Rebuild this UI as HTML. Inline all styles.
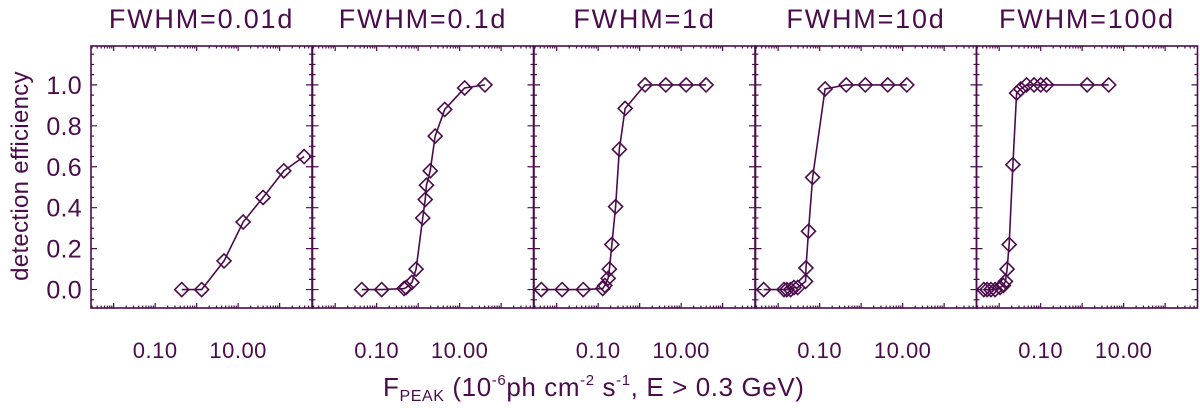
<!DOCTYPE html>
<html><head><meta charset="utf-8"><style>
html,body{margin:0;padding:0;background:#fff;}
svg{display:block;font-family:"Liberation Sans",Arial,sans-serif;}
</style></head><body>
<svg id="chart" width="1200" height="408" viewBox="0 0 1200 408" xmlns="http://www.w3.org/2000/svg">
<text transform="translate(28,176) rotate(-90)" text-anchor="middle" font-size="24" fill="#4b0c4b" letter-spacing="0.3">detection efficiency</text>
<text x="383" y="396" font-size="26" letter-spacing="0.6" fill="#4b0c4b">F<tspan font-size="16" dy="5">PEAK</tspan><tspan dy="-5"> (10</tspan><tspan font-size="15" dy="-11">-6</tspan><tspan dy="11">ph cm</tspan><tspan font-size="15" dy="-11">-2</tspan><tspan dy="11"> s</tspan><tspan font-size="15" dy="-11">-1</tspan><tspan dy="11">, E &gt; 0.3 GeV)</tspan></text>
<g id="panels"></g>
</svg>
<script>
const panelTitles = ["FWHM=0.01d","FWHM=0.1d","FWHM=1d","FWHM=10d","FWHM=100d"];
const yTicks = [0,0.2,0.4,0.6,0.8,1.0];
const yTickLabels = ["0.0","0.2","0.4","0.6","0.8","1.0"];
const xTickLabelValues = [0.1, 10];
const xTickLabels = ["0.10","10.00"];
// log10(F) values and efficiencies per panel
const logF1 = [-0.36,0.12,0.66,1.12,1.60,2.10,2.59];
const eff1  = [0,0,0.14,0.33,0.45,0.58,0.65];
const logF2 = [-1.36,-0.88,-0.34,-0.29,-0.15,-0.05,0.11,0.17,0.20,0.29,0.41,0.64,1.12,1.61];
const eff2  = [0,0,0.005,0.01,0.035,0.10,0.35,0.44,0.51,0.58,0.75,0.88,0.985,1.0];
const logF3 = [-2.37,-1.87,-1.36,-0.89,-0.84,-0.76,-0.73,-0.67,-0.58,-0.49,-0.35,0.13,0.63,1.12,1.60];
const eff3  = [0,0,0,0.005,0.02,0.055,0.10,0.22,0.405,0.685,0.885,1,1,1,1];
const logF4 = [-2.35,-1.86,-1.79,-1.70,-1.62,-1.53,-1.34,-1.33,-1.27,-1.17,-0.87,-0.36,0.10,0.64,1.10];
const eff4  = [0,0,0,0,0.01,0.01,0.04,0.106,0.285,0.548,0.98,1,1,1,1];
const logF5 = [-2.37,-2.29,-2.2,-2.1,-1.98,-1.9,-1.85,-1.81,-1.76,-1.67,-1.58,-1.48,-1.34,-1.16,-1.0,-0.86,0.12,0.64];
const eff5  = [0,0,0,0,0.01,0.02,0.04,0.10,0.22,0.61,0.96,0.98,1,1,1,1,1,1];
const series = [[logF1,eff1],[logF2,eff2],[logF3,eff3],[logF4,eff4],[logF5,eff5]];

const C = "#4b0c4b";
const NS = "http://www.w3.org/2000/svg";
const panelLefts = [91,312.5,534,755.5,976.5];
const PW = 221, TOP = 46, BOT = 308;
const XMIN = -2.547, XMAX = 2.78, YMIN = -0.09, YMAX = 1.19;
const root = document.getElementById("panels");
function mk(tag, attrs, parent){const e=document.createElementNS(NS,tag);for(const k in attrs)e.setAttribute(k,attrs[k]);parent.appendChild(e);return e;}

panelTitles.forEach((title, p) => {
  const L = panelLefts[p];
  const xs = v => L + (v - XMIN) / (XMAX - XMIN) * PW;
  const ys = v => BOT - (v - YMIN) / (YMAX - YMIN) * (BOT - TOP);
  const g = mk("g", {}, root);
  
  
  const t = mk("text", {x: L + PW/2, y: 28, "text-anchor": "middle", "font-size": 27, "letter-spacing": 1.8, fill: C}, g);
  
  
  t.textContent = title;
  const fr = mk("rect", {x: L, y: TOP, width: PW, height: BOT-TOP, fill: "none", stroke: C, "stroke-width": 1.6}, g);
  
  
  let d = "";
  for (let dec = -3; dec <= 3; dec++) {
    for (let m = 1; m <= 9; m++) {
      const lv = dec + Math.log10(m);
      if (lv < XMIN || lv > XMAX) continue;
      const x = xs(lv), len = m === 1 ? 5 : 2.5;
      d += `M${x},${BOT}v${-len}M${x},${TOP}v${len}`;
    }
  }
  for (let k = -1; k <= 23; k++) {
    const v = k * 0.05;
    if (v < YMIN || v > YMAX) continue;
    const y = ys(v), len = (k % 4 === 0) ? 6 : 3;
    d += `M${L},${y}h${len}M${L+PW},${y}h${-len}`;
  }
  const tk = mk("path", {d: d, stroke: C, "stroke-width": 1.2, fill: "none"}, g);
  
  
  xTickLabelValues.forEach((v, i) => {
    const lt = mk("text", {x: xs(Math.log10(v)), y: 358, "text-anchor": "middle", "font-size": 22, "letter-spacing": 0.5, fill: C}, g);
    
    
    lt.textContent = xTickLabels[i];
  });
  if (p === 0) {
    yTicks.forEach((v, i) => {
      const lt = mk("text", {x: 82, y: ys(v) + 9, "text-anchor": "end", "font-size": 25, "letter-spacing": 0.3, fill: C}, g);
      
      
      lt.textContent = yTickLabels[i];
    });
  }
  const [lx, ly] = series[p];
  const pts = lx.map((v, i) => xs(v) + "," + ys(ly[i])).join(" ");
  const line = mk("polyline", {points: pts, fill: "none", stroke: C, "stroke-width": 1.6}, g);
  
  
  lx.forEach((v, i) => {
    const cx = xs(v), cy = ys(ly[i]), r = 7;
    const mkr = mk("polygon", {points: `${cx},${cy-r} ${cx+r},${cy} ${cx},${cy+r} ${cx-r},${cy}`, fill: "none", stroke: C, "stroke-width": 1.6}, g);
    
    
  });
});
</script>
</body></html>
